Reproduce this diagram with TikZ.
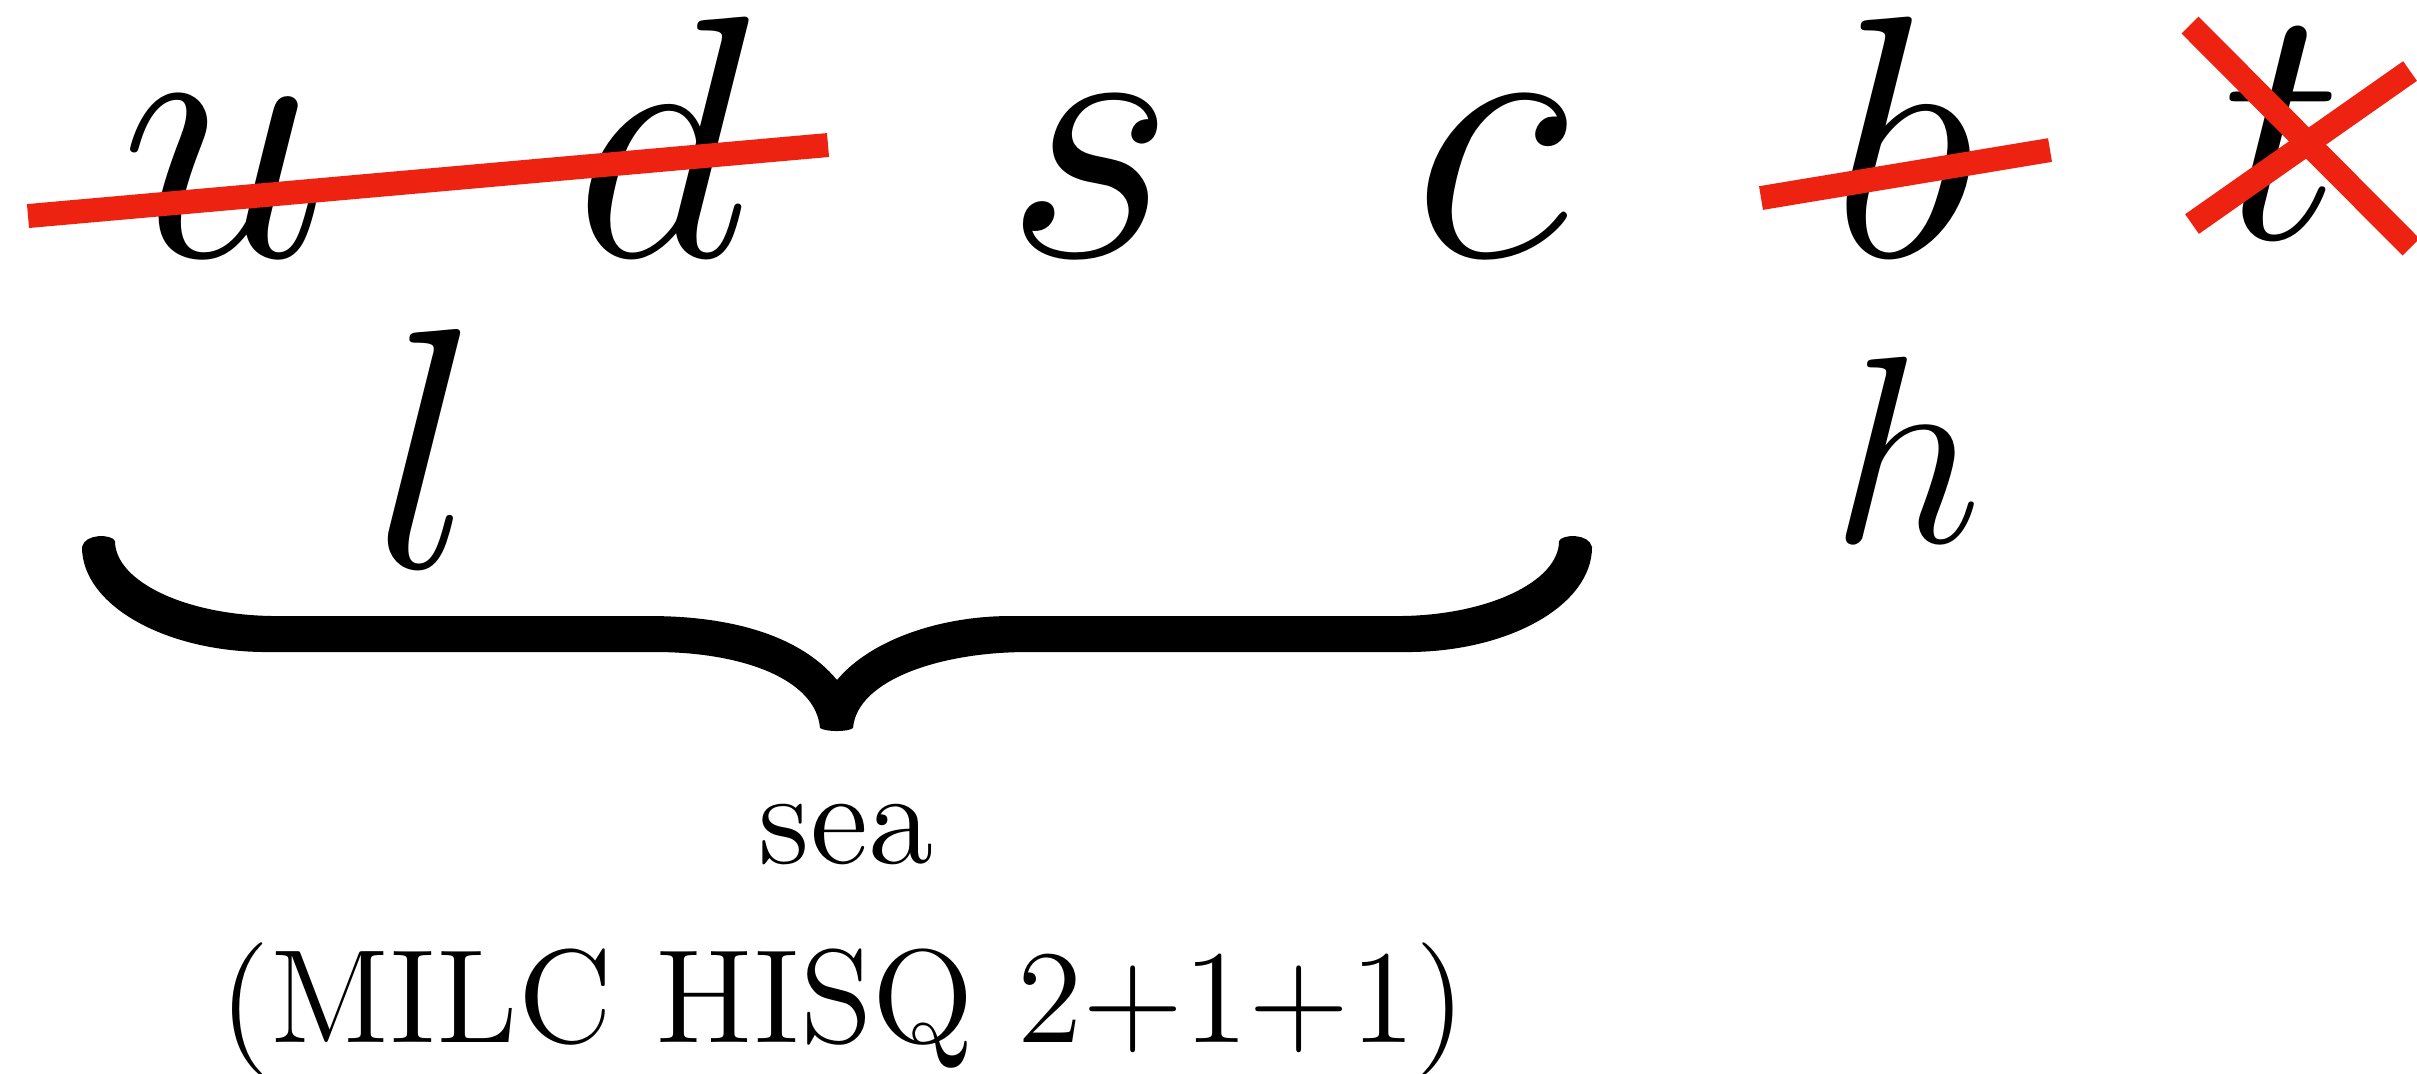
\RequirePackage{fix-cm}
\documentclass[tikz,border=0pt]{standalone}
\definecolor{xred}{RGB}{238,34,17}
\begin{document}
\begin{tikzpicture}[x=0.1pt,y=-0.1pt,
  quark/.style={inner sep=0pt, anchor=base},
  label/.style={inner sep=0pt, anchor=base, font=\fontsize{13.3}{16}\selectfont},
  strike/.style={draw=xred, line width=2.4pt}]
\useasboundingbox (0,0) rectangle (2417,1073);
% top row
\node[quark, font=\fontsize{37.1}{40}\selectfont] (u) at (224,256) {$u$};
\node[quark, font=\fontsize{34.5}{40}\selectfont] (d) at (662,256) {$d$};
\node[quark, font=\fontsize{37.1}{40}\selectfont] (s) at (1090,256) {$s$};
\node[quark, font=\fontsize{37.1}{40}\selectfont] (c) at (1491,256) {$c$};
\node[quark, font=\fontsize{34.5}{40}\selectfont] (b) at (1903,256) {$b$};
\node[quark, font=\fontsize{34}{40}\selectfont] (t) at (2283,238) {$t$};
% second row
\node[quark, font=\fontsize{34.3}{40}\selectfont] (l) at (426,567) {$l$};
\node[quark, font=\fontsize{26.7}{30}\selectfont] (h) at (1907,542) {$h$};
% strike-throughs
\coordinate (ud1) at (28,216); \coordinate (ud2) at (828,145);
\coordinate (b1) at (1761,198); \coordinate (b2) at (2050,150);
\coordinate (t1) at (2190,25); \coordinate (t2) at (2411,247);
\coordinate (t3) at (2192,224); \coordinate (t4) at (2410,71);
\draw[strike] (ud1) -- (ud2);
\draw[strike] (b1) -- (b2);
\draw[strike] (t1) -- (t2);
\draw[strike] (t3) -- (t4);
% brace
\fill[black] (82,547)
  .. controls (82,605) and (165,652) .. (267,652)
  -- (660,652)
  .. controls (745,653) and (816,680) .. (820,728)
  .. controls (826,732) and (848,732) .. (853,728)
  .. controls (857,680) and (940,652) .. (1027,652)
  -- (1407,652)
  .. controls (1509,652) and (1592,605) .. (1592,547)
  .. controls (1589,533) and (1562,534) .. (1559,541)
  .. controls (1559,582) and (1486,616) .. (1397,616)
  -- (1010,616)
  .. controls (940,616) and (870,640) .. (837,680)
  .. controls (800,635) and (730,616) .. (650,616)
  -- (277,616)
  .. controls (188,616) and (115,582) .. (115,541)
  .. controls (112,534) and (85,533) .. (82,547) -- cycle;
% labels
\node[label] (sea) at (846,863) {sea};
\node[label] (milc) at (843,1042) {(MILC HISQ 2+1+1)};
\end{tikzpicture}
\end{document}
